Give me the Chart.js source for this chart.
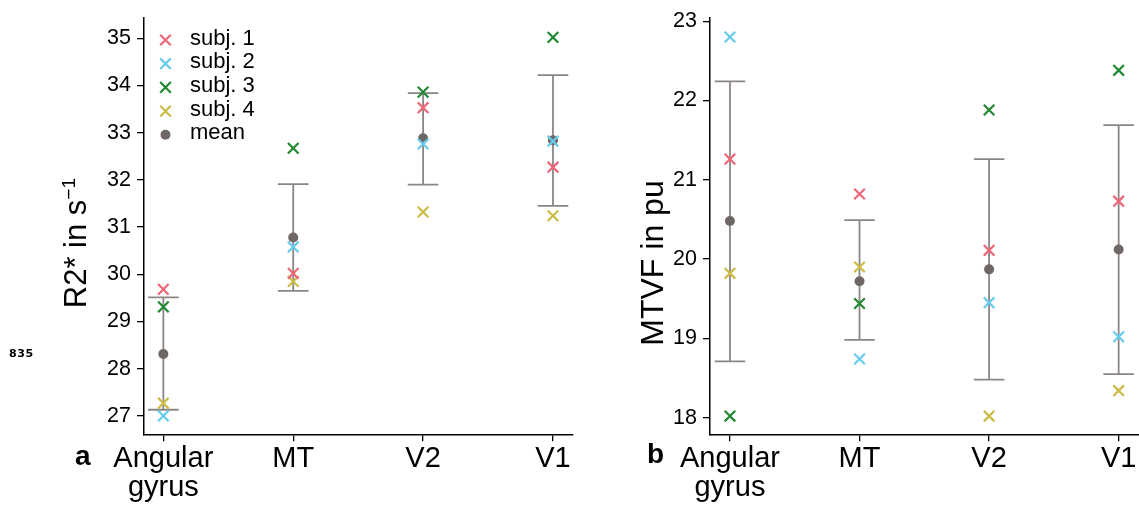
<!DOCTYPE html>
<html lang="en">
<head>
  <meta charset="UTF-8" />
  <title>R2* and MTVF per region</title>
  <script src="https://cdn.jsdelivr.net/npm/chart.js"></script>
  <style>
    html, body { margin: 0; padding: 0; background: #fff; }
    body { width: 1139px; height: 506px; position: relative; overflow: hidden; font-family: 'Liberation Sans', Arial, sans-serif; color: #000; }
    .panel { position: absolute; top: 0; height: 506px; }
    .ytitle { position: absolute; white-space: nowrap; font-size: 31px; line-height: 1; transform: translate(-50%, -50%) rotate(-90deg); }
    .ytitle sup { font-size: 0.62em; vertical-align: 0.55em; line-height: 0; }
    .tag { position: absolute; font-weight: bold; font-size: 28px; line-height: 1; }
    .note { position: absolute; left: 9px; top: 348px; font-family: 'DejaVu Sans', sans-serif; font-weight: bold; font-size: 11px; line-height: 1; letter-spacing: 0.6px; }
  </style>
</head>
<body>
  <div class="panel" style="left:0;width:590px"><canvas id="chartA" width="590" height="506"></canvas></div>
  <div class="panel" style="left:590px;width:580px"><canvas id="chartB" width="580" height="506"></canvas></div>

  <div class="ytitle" style="left:75px;top:243px">R2* in s<sup>−1</sup></div>
  <div class="ytitle" style="left:652px;top:263px;font-size:32px">MTVF in pu</div>
  <div class="tag" style="left:75px;top:442px">a</div>
  <div class="tag" style="left:647px;top:440px">b</div>
  <div class="note">835</div>

  <script>
    const categories = [['Angular', 'gyrus'], 'MT', 'V2', 'V1'];
    const subjects = ['subj. 1', 'subj. 2', 'subj. 3', 'subj. 4'];
    const subjColors = ['#EE6677', '#66CCEE', '#228833', '#CCBB44'];
    const meanColor = '#6E6764';
    const barColor = '#8C8784';

    // R2* in s^-1
    const r2Subj1 = [29.68, 30.02, 33.53, 32.27];
    const r2Subj2 = [27.00, 30.58, 32.76, 32.82];
    const r2Subj3 = [29.31, 32.67, 33.86, 35.02];
    const r2Subj4 = [27.27, 29.85, 31.32, 31.24];
    const r2Mean = [28.31, 30.78, 32.88, 32.84];
    const r2Low = [27.13, 29.65, 31.90, 31.45];
    const r2High = [29.51, 31.91, 33.84, 34.22];
    const r2Ticks = [27, 28, 29, 30, 31, 32, 33, 34, 35];

    // MTVF in pu
    const mtSubj1 = [21.26, 20.82, 20.11, 20.73];
    const mtSubj2 = [22.80, 18.74, 19.45, 19.02];
    const mtSubj3 = [18.02, 19.44, 21.88, 22.38];
    const mtSubj4 = [19.82, 19.90, 18.02, 18.34];
    const mtMean = [20.48, 19.72, 19.87, 20.12];
    const mtLow = [18.71, 18.98, 18.48, 18.55];
    const mtHigh = [22.24, 20.49, 21.26, 21.69];
    const mtTicks = [18, 19, 20, 21, 22, 23];

    const FONT = "'Liberation Sans', Arial, sans-serif";
    const CAP = 0.118; // half width of error bar caps, in category units

    // whisker + caps as one broken line per category
    function errorBarPoints(low, high) {
      const pts = [];
      low.forEach((lo, i) => {
        const hi = high[i];
        pts.push({ x: i - CAP, y: hi }, { x: i + CAP, y: hi }, { x: i, y: null },
                 { x: i, y: hi }, { x: i, y: lo }, { x: i, y: null },
                 { x: i - CAP, y: lo }, { x: i + CAP, y: lo }, { x: i, y: null });
      });
      return pts;
    }

    const toPoints = vals => vals.map((y, i) => ({ x: i, y }));

    function buildDatasets(subjVals, mean, low, high) {
      const sets = subjVals.map((vals, k) => ({
        label: subjects[k],
        data: toPoints(vals),
        pointStyle: 'crossRot',
        pointRadius: 7.5,
        borderWidth: 2.2,
        borderColor: subjColors[k],
        backgroundColor: subjColors[k],
        order: k
      }));
      sets.push({
        label: 'mean',
        data: toPoints(mean),
        pointStyle: 'circle',
        pointRadius: 5,
        borderWidth: 0,
        borderColor: meanColor,
        backgroundColor: meanColor,
        order: 4
      });
      sets.push({
        label: 'sd',
        errorBars: true,
        data: errorBarPoints(low, high),
        showLine: true,
        spanGaps: false,
        pointRadius: 0,
        borderWidth: 1.8,
        borderColor: barColor,
        order: 5
      });
      return sets;
    }

    // legend drawn inside the plot, top left
    const innerLegend = {
      id: 'innerLegend',
      afterDatasetsDraw(chart, args, opts) {
        if (!opts.display) return;
        const { ctx, chartArea } = chart;
        const mx = chartArea.left + 21.5;
        let y = chartArea.top + 22;
        ctx.save();
        ctx.font = '22px ' + FONT;
        ctx.textBaseline = 'middle';
        chart.data.datasets.forEach(ds => {
          if (ds.errorBars) return;
          ctx.strokeStyle = ds.borderColor;
          ctx.fillStyle = ds.backgroundColor;
          ctx.lineWidth = ds.borderWidth;
          Chart.helpers.drawPoint(ctx, { pointStyle: ds.pointStyle, radius: ds.pointRadius, borderWidth: ds.borderWidth, rotation: 0 }, mx, y);
          ctx.fillStyle = '#000';
          ctx.fillText(ds.label, chartArea.left + 46, y - 1.5);
          y += 23.7;
        });
        ctx.restore();
      }
    };

    function makeChart(id, cfg) {
      return new Chart(document.getElementById(id), {
        type: 'scatter',
        data: { datasets: buildDatasets(cfg.subj, cfg.mean, cfg.low, cfg.high) },
        plugins: [innerLegend],
        options: {
          responsive: false,
          animation: false,
          events: [],
          layout: { padding: { top: 18, right: cfg.padRight, left: 0, bottom: 0 } },
          plugins: {
            legend: { display: false },
            tooltip: { enabled: false },
            innerLegend: { display: cfg.legend }
          },
          scales: {
            x: {
              type: 'linear',
              min: cfg.xMin,
              max: cfg.xMax,
              afterFit: s => { s.height = 71.7; },
              afterBuildTicks: s => { s.ticks = categories.map((c, i) => ({ value: i })); },
              ticks: {
                callback: v => categories[v],
                color: '#000',
                font: { size: 29, family: FONT, lineHeight: 1 },
                padding: 3,
                autoSkip: false,
                maxRotation: 0,
                minRotation: 0
              },
              grid: { drawOnChartArea: false, tickLength: 7, color: '#000', lineWidth: 1.3 },
              border: { color: '#000', width: 1.5 }
            },
            y: {
              min: cfg.yMin,
              max: cfg.yMax,
              afterFit: s => { s.width = cfg.yWidth; },
              afterBuildTicks: s => { s.ticks = cfg.ticks.map(v => ({ value: v })); },
              ticks: {
                color: '#000',
                font: { size: 21.5, family: FONT, lineHeight: 1 },
                padding: 6
              },
              grid: { drawOnChartArea: false, tickLength: 7, color: '#000', lineWidth: 1.3 },
              border: { color: '#000', width: 1.5 }
            }
          }
        }
      });
    }

    makeChart('chartA', {
      subj: [r2Subj1, r2Subj2, r2Subj3, r2Subj4],
      mean: r2Mean, low: r2Low, high: r2High, ticks: r2Ticks,
      yMin: 26.61, yMax: 35.43, xMin: -0.149, xMax: 3.152,
      yWidth: 144, padRight: 17.3, legend: true
    });

    // right panel runs past the page edge, as the axis does
    makeChart('chartB', {
      subj: [mtSubj1, mtSubj2, mtSubj3, mtSubj4],
      mean: mtMean, low: mtLow, high: mtHigh, ticks: mtTicks,
      yMin: 17.79, yMax: 23.04, xMin: -0.154, xMax: 3.157,
      yWidth: 120, padRight: 31, legend: false
    });
  </script>
</body>
</html>
